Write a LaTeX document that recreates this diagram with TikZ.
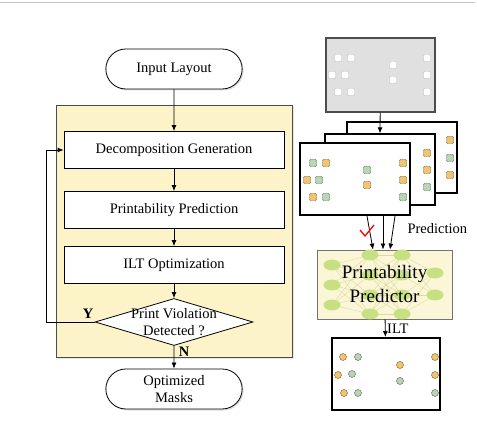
\documentclass[tikz,border=0pt]{standalone}
\usepackage{fontspec}
\setmainfont{Liberation Serif}
\usetikzlibrary{shapes.geometric,shapes.misc,arrows.meta,shadows}
\definecolor{stageyellow}{RGB}{253,243,200}
\definecolor{predyellow}{RGB}{251,246,216}
\definecolor{layoutgray}{RGB}{224,224,224}
\definecolor{padorange}{RGB}{242,196,110}
\definecolor{padgreen}{RGB}{185,214,180}
\definecolor{netgreen}{RGB}{198,224,130}

\tikzset{
	arr/.style={-{Latex[length=6pt,width=5pt]}, thick},
	pill/.style={rounded rectangle, draw, thick, fill=white, minimum width=143pt, minimum height=40pt, align=center, drop shadow={opacity=0.25, shadow xshift=1.5pt, shadow yshift=-1.5pt}},
	stepbox/.style={draw, thick, fill=white, minimum width=220pt, minimum height=37pt},
	sheet/.style={draw, fill=white, line width=1.3pt, minimum width=110pt, minimum height=71pt, inner sep=0pt},
	pad/.style={draw=#1!45!black, fill=#1, rounded corners=1pt, minimum size=7pt, inner sep=0pt},
	dot/.style={circle, draw=#1!45!black, fill=#1, minimum size=7pt, inner sep=0pt},
	neuron/.style={ellipse, fill=netgreen, minimum width=17pt, minimum height=11pt, inner sep=0pt}
}

\begin{document}
\begin{tikzpicture}[x=1pt,y=-1pt,font=\fontsize{14.5}{17}\selectfont]
	\useasboundingbox (0,0) rectangle (477,422);
	\draw[gray!45, thick] (0,2) -- (475,2);

	% Flow on the left
	\node[draw=black!70, thick, fill=stageyellow, minimum width=236pt, minimum height=252pt, drop shadow={opacity=0.2, shadow xshift=1.5pt, shadow yshift=-1.5pt}] (stage) at (174,231) {};
	\node[pill] (input) at (174,69) {Input Layout};
	\node[stepbox] (decomp) at (174,150) {Decomposition Generation};
	\node[stepbox] (predict) at (174,210) {Printability Prediction};
	\node[stepbox] (ilt) at (174,265) {ILT Optimization};
	\node[diamond, draw, thick, fill=white, minimum width=158pt, minimum height=47pt, inner sep=0pt,
		label={[align=center, font=\fontsize{14.5}{17}\selectfont]center:Print Violation\\Detected ?}] (check) at (174,322) {};
	\node[pill] (masks) at (174,389) {Optimized\\Masks};

	\draw[arr] (input) -- (decomp);
	\draw[arr] (decomp) -- (predict);
	\draw[arr] (predict) -- (ilt);
	\draw[arr] (ilt) -- (check);
	\draw[arr] (check) -- (masks);
	\draw[arr] (check.west) -- ++(-48,0) |- (decomp.west);
	\node[font=\fontsize{14.5}{17}\selectfont\bfseries] (yes) at (88,314) {Y};
	\node[font=\fontsize{14.5}{17}\selectfont\bfseries] (no) at (184,352) {N};

	% Layout and decomposed sheets
	\node[draw=black!70, line width=1.5pt, fill=layoutgray, minimum width=109pt, minimum height=74pt] (layout) at (380.5,75) {};
	\foreach \x/\y in {338/58, 351/58, 427/58, 332/75, 345/75, 427/75, 393/65, 393/80, 338/92, 351/92, 427/92}
		\node[pad=white, draw=black!25] at (\x,\y) {};

	\node[sheet] (back) at (402,157.5) {};
	\node[sheet] (mid) at (380,169.5) {};
	\node[sheet, line width=2pt, minimum height=72pt] (front) at (355,179) {};
	\draw[arr] (layout) -- (mid.north);
	\foreach \y/\c in {140/padorange, 158/padgreen, 175/padorange}
		\node[pad=\c] at (450,\y) {};
	\foreach \y/\c in {153/padorange, 170/padorange, 187/padgreen}
		\node[pad=\c] at (427,\y) {};
	\foreach \x/\y/\c in {313/163/padgreen, 326/163/padorange, 367/170/padgreen, 403/163/padorange,
		307/180/padorange, 319/180/padgreen, 367/185/padorange, 403/180/padorange,
		313/197/padorange, 326/197/padgreen, 403/197/padgreen}
		\node[pad=\c] at (\x,\y) {};

	% Predictor
	\node[draw=black!55, thick, fill=predyellow, minimum width=135pt, minimum height=69pt] (pred) at (384.5,284.5) {};
	\foreach \i/\y in {1/265, 2/285, 3/305} \coordinate (a\i) at (332,\y);
	\foreach \i/\y in {1/255, 2/275, 3/295, 4/314} \coordinate (b\i) at (370,\y);
	\foreach \i/\y in {1/255, 2/275, 3/295, 4/314} \coordinate (c\i) at (402,\y);
	\foreach \i/\y in {1/273, 2/295} \coordinate (d\i) at (435,\y);
	\foreach \i in {1,2,3} \foreach \j in {1,2,3,4} \draw[olive!30, thin] (a\i) -- (b\j);
	\foreach \i in {1,2,3,4} \foreach \j in {1,2,3,4} \draw[olive!30, thin] (b\i) -- (c\j);
	\foreach \i in {1,2,3,4} \foreach \j in {1,2} \draw[olive!30, thin] (c\i) -- (d\j);
	\foreach \n in {a1,a2,a3,b1,b2,b3,b4,c1,c2,c3,c4,d1,d2}
		\node[neuron] at (\n) {};
	\node[align=center, font=\fontsize{19}{24}\selectfont] (predtxt) at (pred) {Printability\\Predictor};

	\draw[arr] ([xshift=12pt]front.south) -- ([xshift=-11.5pt]pred.north);
	\draw[arr] ([xshift=28pt]front.south) -- ([xshift=-1.5pt]pred.north);
	\draw[arr] ([xshift=40pt]front.south) -- ([xshift=5.5pt]pred.north);
	\draw[red, line width=1.3pt] (360,230) -- (365,236) -- (374,225);
	\node[anchor=west] (predlbl) at (404,229) {Prediction};

	% Output masks
	\node[draw, line width=2pt, minimum width=108pt, minimum height=72pt] (out) at (386,374) {};
	\draw[arr] (pred) -- (out);
	\node[anchor=west, inner sep=1pt] (iltlbl) at (386,329) {ILT};
	\foreach \x/\y/\c in {343/357/padorange, 358/357/padgreen, 338/375/padorange, 352/374/padgreen,
		344/393/padorange, 358/393/padgreen, 400/365/padorange, 400/381/padgreen,
		435/357/padorange, 435/375/padorange, 435/393/padgreen}
		\node[dot=\c] at (\x,\y) {};
\end{tikzpicture}
\end{document}
